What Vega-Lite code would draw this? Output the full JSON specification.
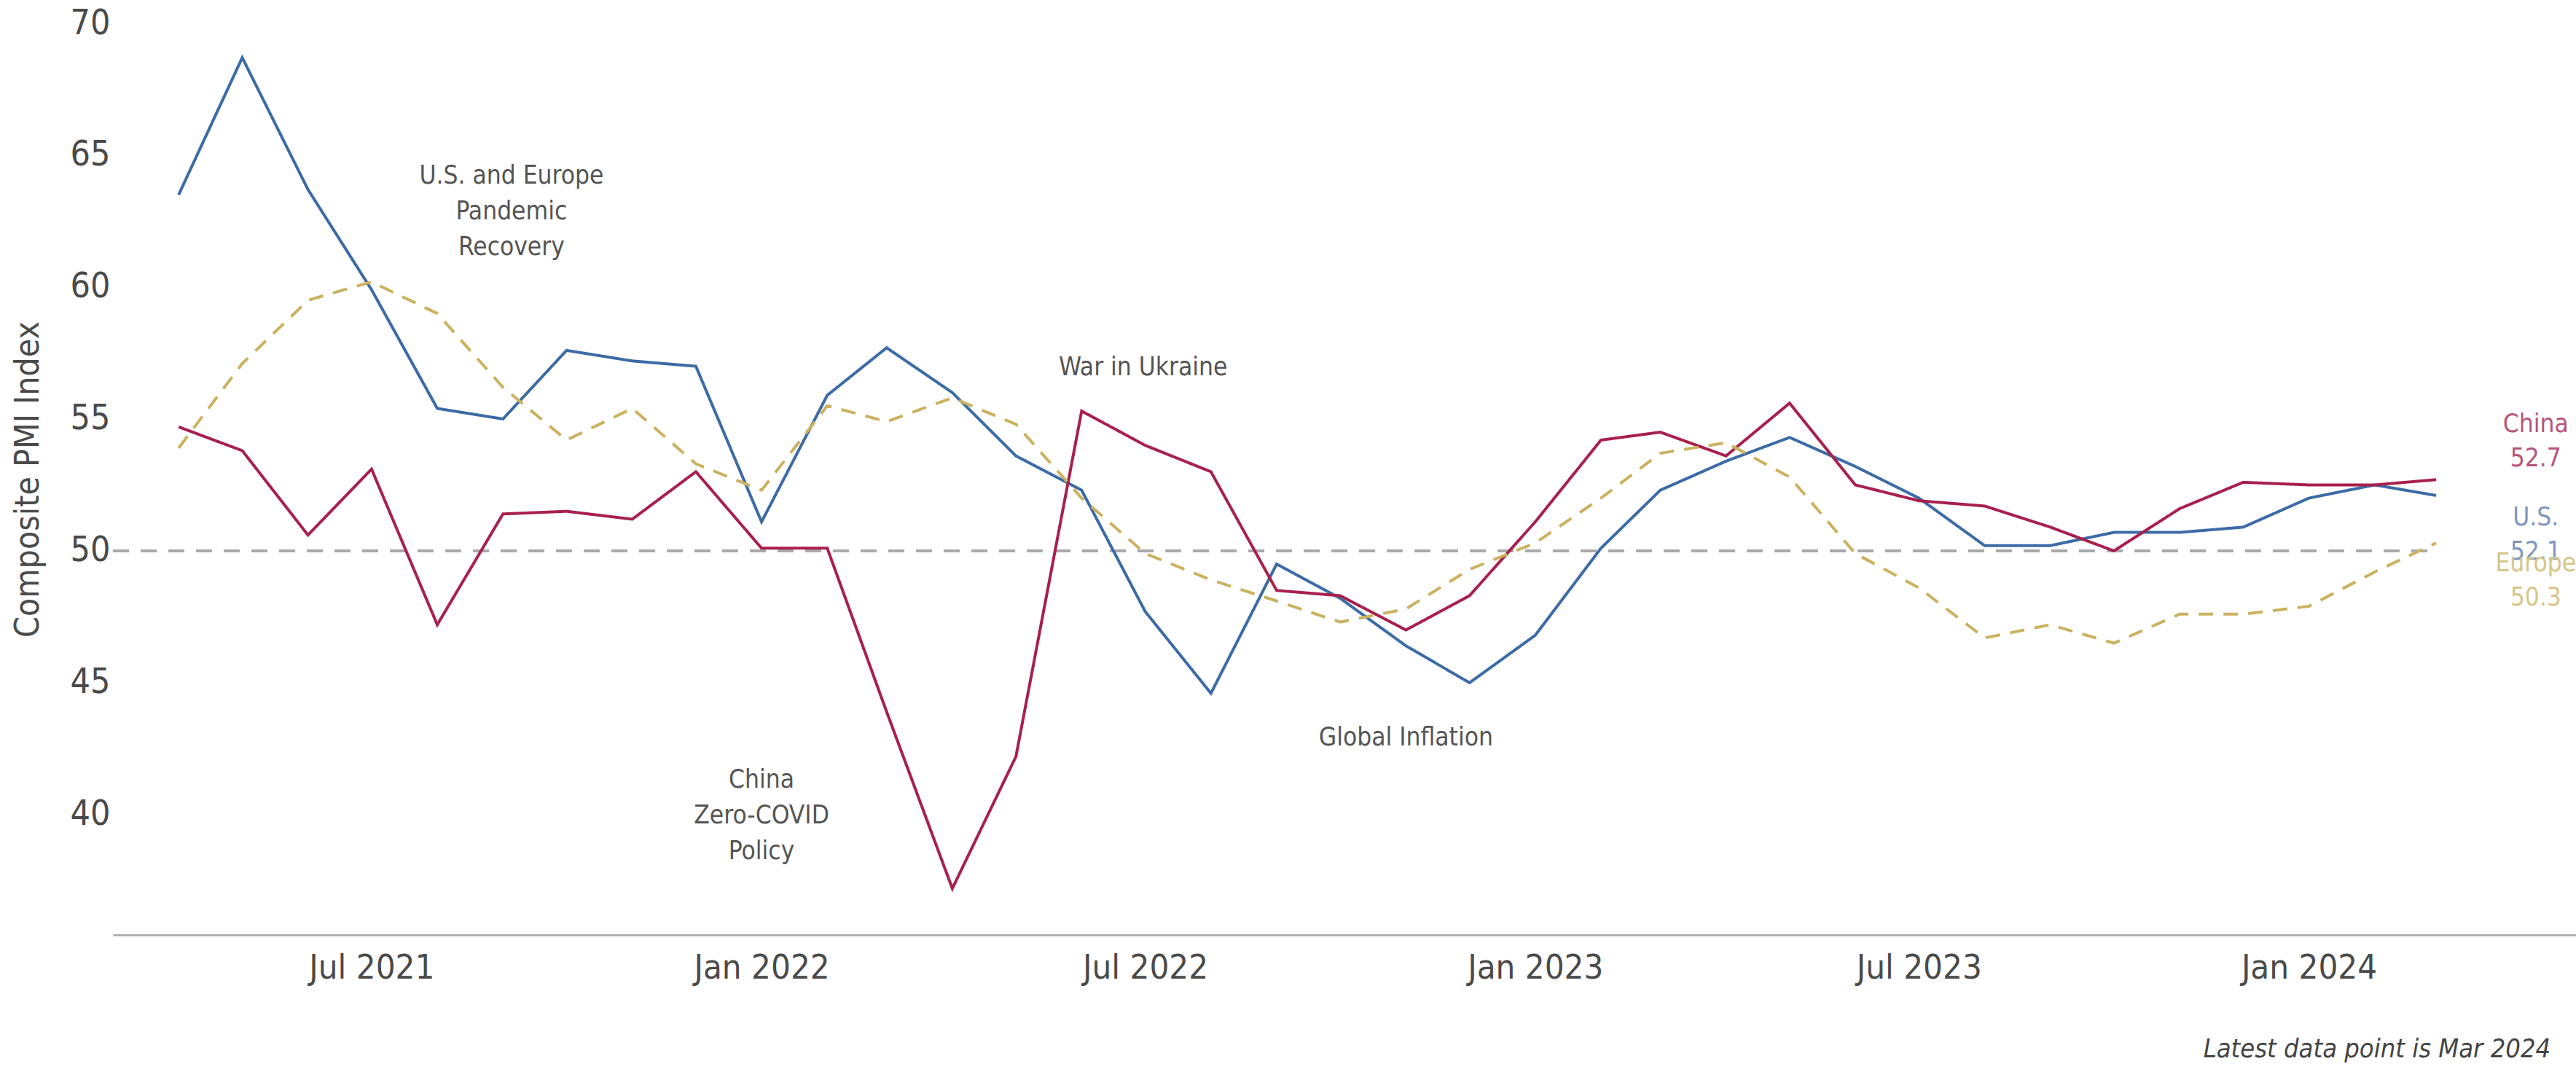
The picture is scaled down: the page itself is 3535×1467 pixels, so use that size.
{
  "$schema": "https://vega.github.io/schema/vega-lite/v6.json",
  "width": 3380,
  "height": 1251,
  "autosize": {"type": "none"},
  "padding": {"left": 155, "top": 32, "right": 0, "bottom": 184},
  "background": "white",
  "config": {
    "view": {"stroke": null},
    "font": "Liberation Sans Narrow, DejaVu Sans Condensed, Roboto Condensed, sans-serif",
    "axis": {
      "labelFont": "Liberation Sans Narrow, DejaVu Sans Condensed, sans-serif",
      "titleFont": "Liberation Sans Narrow, DejaVu Sans Condensed, sans-serif",
      "labelColor": "#4a4a4a",
      "titleColor": "#4a4a4a",
      "grid": false,
      "ticks": false,
      "labelLimit": 0
    }
  },
  "datasets": {
    "pmi": [
      {"date": "2021-04-01", "region": "U.S.", "value": 63.5},
      {"date": "2021-05-01", "region": "U.S.", "value": 68.7},
      {"date": "2021-06-01", "region": "U.S.", "value": 63.7},
      {"date": "2021-07-01", "region": "U.S.", "value": 59.9},
      {"date": "2021-08-01", "region": "U.S.", "value": 55.4},
      {"date": "2021-09-01", "region": "U.S.", "value": 55.0},
      {"date": "2021-10-01", "region": "U.S.", "value": 57.6},
      {"date": "2021-11-01", "region": "U.S.", "value": 57.2},
      {"date": "2021-12-01", "region": "U.S.", "value": 57.0},
      {"date": "2022-01-01", "region": "U.S.", "value": 51.1},
      {"date": "2022-02-01", "region": "U.S.", "value": 55.9},
      {"date": "2022-03-01", "region": "U.S.", "value": 57.7},
      {"date": "2022-04-01", "region": "U.S.", "value": 56.0},
      {"date": "2022-05-01", "region": "U.S.", "value": 53.6},
      {"date": "2022-06-01", "region": "U.S.", "value": 52.3},
      {"date": "2022-07-01", "region": "U.S.", "value": 47.7},
      {"date": "2022-08-01", "region": "U.S.", "value": 44.6},
      {"date": "2022-09-01", "region": "U.S.", "value": 49.5},
      {"date": "2022-10-01", "region": "U.S.", "value": 48.2},
      {"date": "2022-11-01", "region": "U.S.", "value": 46.4},
      {"date": "2022-12-01", "region": "U.S.", "value": 45.0},
      {"date": "2023-01-01", "region": "U.S.", "value": 46.8},
      {"date": "2023-02-01", "region": "U.S.", "value": 50.1},
      {"date": "2023-03-01", "region": "U.S.", "value": 52.3},
      {"date": "2023-04-01", "region": "U.S.", "value": 53.4},
      {"date": "2023-05-01", "region": "U.S.", "value": 54.3},
      {"date": "2023-06-01", "region": "U.S.", "value": 53.2},
      {"date": "2023-07-01", "region": "U.S.", "value": 52.0},
      {"date": "2023-08-01", "region": "U.S.", "value": 50.2},
      {"date": "2023-09-01", "region": "U.S.", "value": 50.2},
      {"date": "2023-10-01", "region": "U.S.", "value": 50.7},
      {"date": "2023-11-01", "region": "U.S.", "value": 50.7},
      {"date": "2023-12-01", "region": "U.S.", "value": 50.9},
      {"date": "2024-01-01", "region": "U.S.", "value": 52.0},
      {"date": "2024-02-01", "region": "U.S.", "value": 52.5},
      {"date": "2024-03-01", "region": "U.S.", "value": 52.1},
      {"date": "2021-04-01", "region": "China", "value": 54.7},
      {"date": "2021-05-01", "region": "China", "value": 53.8},
      {"date": "2021-06-01", "region": "China", "value": 50.6},
      {"date": "2021-07-01", "region": "China", "value": 53.1},
      {"date": "2021-08-01", "region": "China", "value": 47.2},
      {"date": "2021-09-01", "region": "China", "value": 51.4},
      {"date": "2021-10-01", "region": "China", "value": 51.5},
      {"date": "2021-11-01", "region": "China", "value": 51.2},
      {"date": "2021-12-01", "region": "China", "value": 53.0},
      {"date": "2022-01-01", "region": "China", "value": 50.1},
      {"date": "2022-02-01", "region": "China", "value": 50.1},
      {"date": "2022-03-01", "region": "China", "value": 43.9},
      {"date": "2022-04-01", "region": "China", "value": 37.2},
      {"date": "2022-05-01", "region": "China", "value": 42.2},
      {"date": "2022-06-01", "region": "China", "value": 55.3},
      {"date": "2022-07-01", "region": "China", "value": 54.0},
      {"date": "2022-08-01", "region": "China", "value": 53.0},
      {"date": "2022-09-01", "region": "China", "value": 48.5},
      {"date": "2022-10-01", "region": "China", "value": 48.3},
      {"date": "2022-11-01", "region": "China", "value": 47.0},
      {"date": "2022-12-01", "region": "China", "value": 48.3},
      {"date": "2023-01-01", "region": "China", "value": 51.1},
      {"date": "2023-02-01", "region": "China", "value": 54.2},
      {"date": "2023-03-01", "region": "China", "value": 54.5},
      {"date": "2023-04-01", "region": "China", "value": 53.6},
      {"date": "2023-05-01", "region": "China", "value": 55.6},
      {"date": "2023-06-01", "region": "China", "value": 52.5},
      {"date": "2023-07-01", "region": "China", "value": 51.9},
      {"date": "2023-08-01", "region": "China", "value": 51.7},
      {"date": "2023-09-01", "region": "China", "value": 50.9},
      {"date": "2023-10-01", "region": "China", "value": 50.0},
      {"date": "2023-11-01", "region": "China", "value": 51.6},
      {"date": "2023-12-01", "region": "China", "value": 52.6},
      {"date": "2024-01-01", "region": "China", "value": 52.5},
      {"date": "2024-02-01", "region": "China", "value": 52.5},
      {"date": "2024-03-01", "region": "China", "value": 52.7},
      {"date": "2021-04-01", "region": "Europe", "value": 53.9},
      {"date": "2021-05-01", "region": "Europe", "value": 57.1},
      {"date": "2021-06-01", "region": "Europe", "value": 59.5},
      {"date": "2021-07-01", "region": "Europe", "value": 60.2},
      {"date": "2021-08-01", "region": "Europe", "value": 59.0},
      {"date": "2021-09-01", "region": "Europe", "value": 56.2},
      {"date": "2021-10-01", "region": "Europe", "value": 54.2},
      {"date": "2021-11-01", "region": "Europe", "value": 55.4},
      {"date": "2021-12-01", "region": "Europe", "value": 53.3},
      {"date": "2022-01-01", "region": "Europe", "value": 52.3},
      {"date": "2022-02-01", "region": "Europe", "value": 55.5},
      {"date": "2022-03-01", "region": "Europe", "value": 54.9},
      {"date": "2022-04-01", "region": "Europe", "value": 55.8},
      {"date": "2022-05-01", "region": "Europe", "value": 54.8},
      {"date": "2022-06-01", "region": "Europe", "value": 52.0},
      {"date": "2022-07-01", "region": "Europe", "value": 49.9},
      {"date": "2022-08-01", "region": "Europe", "value": 48.9},
      {"date": "2022-09-01", "region": "Europe", "value": 48.1},
      {"date": "2022-10-01", "region": "Europe", "value": 47.3},
      {"date": "2022-11-01", "region": "Europe", "value": 47.8},
      {"date": "2022-12-01", "region": "Europe", "value": 49.3},
      {"date": "2023-01-01", "region": "Europe", "value": 50.3},
      {"date": "2023-02-01", "region": "Europe", "value": 52.0},
      {"date": "2023-03-01", "region": "Europe", "value": 53.7},
      {"date": "2023-04-01", "region": "Europe", "value": 54.1},
      {"date": "2023-05-01", "region": "Europe", "value": 52.8},
      {"date": "2023-06-01", "region": "Europe", "value": 49.9},
      {"date": "2023-07-01", "region": "Europe", "value": 48.6},
      {"date": "2023-08-01", "region": "Europe", "value": 46.7},
      {"date": "2023-09-01", "region": "Europe", "value": 47.2},
      {"date": "2023-10-01", "region": "Europe", "value": 46.5},
      {"date": "2023-11-01", "region": "Europe", "value": 47.6},
      {"date": "2023-12-01", "region": "Europe", "value": 47.6},
      {"date": "2024-01-01", "region": "Europe", "value": 47.9},
      {"date": "2024-02-01", "region": "Europe", "value": 49.2},
      {"date": "2024-03-01", "region": "Europe", "value": 50.3}
    ],
    "ref": [
      {"start": "2021-03-01", "end": "2024-03-01", "value": 50}
    ],
    "notes": [
      {"date": "2021-09-05", "value": 64.23, "text": ["U.S. and Europe", "Pandemic", "Recovery"]},
      {"date": "2022-06-30", "value": 56.96, "text": ["War in Ukraine"]},
      {"date": "2022-01-01", "value": 41.33, "text": ["China", "Zero-COVID", "Policy"]},
      {"date": "2022-11-01", "value": 42.93, "text": ["Global Inflation"]}
    ],
    "ends": [
      {"date": "2024-04-17", "value": 54.81, "region": "China", "text": ["China", "52.7"]},
      {"date": "2024-04-17", "value": 51.27, "region": "U.S.", "text": ["U.S.", "52.1"]},
      {"date": "2024-04-17", "value": 49.53, "region": "Europe", "text": ["Europe", "50.3"]}
    ],
    "foot": [
      {"date": "2024-04-24", "value": 31.1, "text": "Latest data point is Mar 2024"}
    ]
  },
  "layer": [
    {
      "data": {"name": "ref"},
      "mark": {"type": "rule", "color": "#a9a9a9", "strokeWidth": 4, "strokeDash": [22, 16]},
      "encoding": {
        "x": {
          "field": "start", "type": "temporal", "title": null,
          "scale": {"type": "utc", "domain": [{"year": 2021, "month": 3, "date": 1, "utc": true}, {"year": 2024, "month": 5, "date": 6, "utc": true}]},
          "axis": {
            "values": [
              {"year": 2021, "month": 7, "date": 1, "utc": true},
              {"year": 2022, "month": 1, "date": 1, "utc": true},
              {"year": 2022, "month": 7, "date": 1, "utc": true},
              {"year": 2023, "month": 1, "date": 1, "utc": true},
              {"year": 2023, "month": 7, "date": 1, "utc": true},
              {"year": 2024, "month": 1, "date": 1, "utc": true}
            ],
            "format": "%b %Y",
            "labelFontSize": 47,
            "labelPadding": 22,
            "domainColor": "#b3b3b3",
            "domainWidth": 3,
            "labelFlush": false
          }
        },
        "x2": {"field": "end"},
        "y": {
          "field": "value", "type": "quantitative", "title": "Composite PMI Index",
          "scale": {"domain": [35.44, 70], "nice": false, "zero": false},
          "axis": {
            "values": [40, 45, 50, 55, 60, 65, 70],
            "domain": false,
            "labelFontSize": 48,
            "labelPadding": 4,
            "titleFontSize": 46,
            "titleFontWeight": "normal",
            "titleX": -117,
            "titleBaseline": "middle",
            "labelFlush": false
          }
        }
      }
    },
    {
      "data": {"name": "pmi"},
      "mark": {"type": "line", "strokeWidth": 4},
      "encoding": {
        "x": {"field": "date", "type": "temporal", "title": null},
        "y": {"field": "value", "type": "quantitative", "title": "Composite PMI Index"},
        "color": {
          "field": "region", "type": "nominal", "legend": null,
          "scale": {"domain": ["Europe", "U.S.", "China"], "range": ["#cbb260", "#3c6ba6", "#a8204c"]}
        },
        "strokeDash": {
          "field": "region", "type": "nominal", "legend": null,
          "scale": {"domain": ["Europe", "U.S.", "China"], "range": [[20, 14], [1, 0], [1, 0]]}
        }
      }
    },
    {
      "data": {"name": "notes"},
      "mark": {"type": "text", "fontSize": 35, "color": "#555555", "align": "center", "baseline": "middle", "lineHeight": 49},
      "encoding": {
        "x": {"field": "date", "type": "temporal", "title": null},
        "y": {"field": "value", "type": "quantitative", "title": "Composite PMI Index"},
        "text": {"field": "text", "type": "nominal"}
      }
    },
    {
      "data": {"name": "ends"},
      "mark": {"type": "text", "fontSize": 35, "align": "center", "baseline": "middle", "lineHeight": 47},
      "encoding": {
        "x": {"field": "date", "type": "temporal", "title": null},
        "y": {"field": "value", "type": "quantitative", "title": "Composite PMI Index"},
        "text": {"field": "text", "type": "nominal"},
        "color": {
          "field": "region", "type": "nominal", "legend": null,
          "scale": {"domain": ["Europe", "U.S.", "China"], "range": ["#d6c689", "#7d96bd", "#b5567c"]}
        }
      }
    },
    {
      "data": {"name": "foot"},
      "mark": {"type": "text", "fontSize": 36, "fontStyle": "italic", "color": "#444444", "align": "right", "baseline": "middle"},
      "encoding": {
        "x": {"field": "date", "type": "temporal", "title": null},
        "y": {"field": "value", "type": "quantitative", "title": "Composite PMI Index"},
        "text": {"field": "text", "type": "nominal"}
      }
    }
  ],
  "resolve": {"scale": {"color": "independent"}}
}
